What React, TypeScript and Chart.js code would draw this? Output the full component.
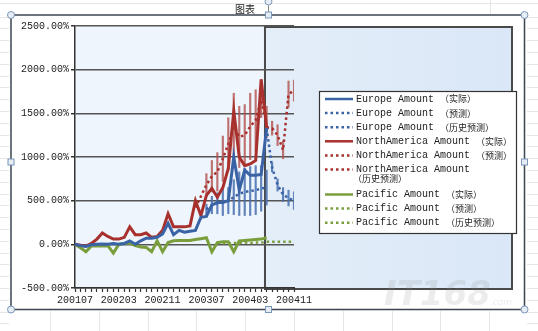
import React, { useEffect, useRef } from "react";
import { Chart, registerables } from "chart.js";

Chart.register(...registerables);

const MONTHS = [
  "200107", "200108", "200109", "200110", "200111", "200112",
  "200201", "200202", "200203", "200204", "200205", "200206",
  "200207", "200208", "200209", "200210", "200211", "200212",
  "200301", "200302", "200303", "200304", "200305", "200306",
  "200307", "200308", "200309", "200310", "200311", "200312",
  "200401", "200402", "200403", "200404", "200405", "200406",
  "200407", "200408", "200409", "200410", "200411",
];

const Y_MIN = -500;
const Y_MAX = 2500;
const Y_STEP = 500;
const LABEL_EVERY = 8;

// actual values (index 0 .. 35)
const EUROPE_ACTUAL = [0, -15, -25, -5, 0, 5, 0, 10, 0, 10, 40, 0, 40, 70, 70, 80, 120, 240, 110, 160, 140, 150, 160, 310, 320, 450, 480, 480, 500, 1000, 620, 850, 790, 790, 800, 1330];
const NA_ACTUAL = [0, -10, -20, 10, 60, 130, 90, 60, 60, 80, 200, 110, 110, 130, 80, 90, 160, 350, 200, 200, 200, 210, 500, 330, 560, 640, 540, 650, 870, 1530, 1000, 900, 920, 960, 1890, 1340];
const PACIFIC_ACTUAL = [0, -40, -85, -20, -20, -20, -15, -100, 0, 10, 15, -15, -30, -35, -85, 40, -85, 20, 40, 45, 45, 45, 55, 65, 75, -85, 20, 30, 30, -85, 40, 45, 50, 55, 60, 75];

// forecast (from index 35)
const FORECAST_START = 35;
const EUROPE_FORECAST = [1330, 880, 680, 570, 530, 500];
const EUROPE_FORECAST_ERR = [null, 50, 70, 80, 90, 100];
const NA_FORECAST = [1340, 1330, 1250, 1080, 1720, 1760];
const NA_FORECAST_ERR = [null, 80, 120, 100, 150, 120];
const PACIFIC_FORECAST = [30, 30, 30, 30, 30, 30];

// historical forecast
const EUROPE_HIST_START = 24;
const EUROPE_HIST = [400, 450, 470, 480, 500, 540, 580, 600, 610, 620, 640, 650];
const EUROPE_HIST_ERR = [60, 100, 120, 150, 150, 200, 250, 270, 280, 280, 260, 200];
const NA_HIST_START = 22;
const NA_HIST = [420, 550, 680, 780, 830, 980, 1150, 1350, 1230, 1250, 1350, 1420, 1650, 1400];
const NA_HIST_ERR = [null, null, 130, 180, 220, 260, 300, 380, 350, 350, 380, 350, 200, 180];
const PACIFIC_HIST_START = 26;
const PACIFIC_HIST = [15, 15, 10, 15, 15, 20, 15, 20, 20, 25];

const SERIES_LABELS = [
  "Europe Amount （实际）",
  "Europe Amount （预测）",
  "Europe Amount （历史预测）",
  "NorthAmerica Amount （实际）",
  "NorthAmerica Amount （预测）",
  "NorthAmerica Amount\n（历史预测）",
  "Pacific Amount （实际）",
  "Pacific Amount （预测）",
  "Pacific Amount （历史预测）",
];

const BLUE = "#3a63a5";
const RED = "#a8312e";
const GREEN = "#7a9e3c";
const BLUE_ERR = "rgba(70,110,175,0.85)";
const RED_ERR = "rgba(178,80,76,0.8)";
const MONO = "'Liberation Mono', 'DejaVu Sans Mono', monospace";
const CJK = "'Noto Sans CJK SC', sans-serif";
const W = 538;
const H = 331;

function place(start: number, values: (number | null)[]) {
  const out: (number | null)[] = new Array(MONTHS.length).fill(null);
  values.forEach((v, i) => { out[start + i] = v; });
  return out;
}
function ranges(start: number, values: number[], errs: (number | null)[]) {
  const out: any[] = new Array(MONTHS.length).fill(null);
  values.forEach((v, i) => {
    const e = errs[i];
    if (e != null) out[start + i] = [v - e, v + e];
  });
  return out;
}

const solid = (label: string, data: any[], color: string) => ({
  type: "line" as const, label, data, borderColor: color, backgroundColor: color,
  borderWidth: 3, pointRadius: 0, fill: false, tension: 0, order: 1,
});
const dotted = (label: string, data: any[], color: string) => ({
  ...solid(label, data, color), borderWidth: 2.5, borderDash: [2.5, 3], order: 2,
});
const errBars = (data: any[], color: string) => ({
  type: "bar" as const, label: "", data, backgroundColor: color, borderWidth: 0,
  barThickness: 1.5, grouped: false, order: 5,
});

const SERIES_STYLE = [
  { color: BLUE, dash: false }, { color: BLUE, dash: true }, { color: BLUE, dash: true },
  { color: RED, dash: false }, { color: RED, dash: true }, { color: RED, dash: true },
  { color: GREEN, dash: false }, { color: GREEN, dash: true }, { color: GREEN, dash: true },
];

const decor = {
  id: "decor",
  beforeDraw(chart: any) {
    const { ctx, chartArea: a, scales } = chart;
    ctx.save();
    ctx.fillStyle = "#ffffff";
    ctx.fillRect(0, 0, W, H);
    // spreadsheet grid outside the chart
    ctx.strokeStyle = "#e6e6e6";
    ctx.lineWidth = 1;
    const ln = (x1: number, y1: number, x2: number, y2: number) => {
      ctx.beginPath(); ctx.moveTo(x1, y1); ctx.lineTo(x2, y2); ctx.stroke();
    };
    ln(0, 3.5, W, 3.5);
    for (let y = 16.5; y < H; y += 11.8) { ln(0, Math.round(y) + 0.5, 9, Math.round(y) + 0.5); ln(527, Math.round(y) + 0.5, W, Math.round(y) + 0.5); }
    for (let x = 50; x < W; x += 48.8) { ln(Math.round(x) + 0.5, 311, Math.round(x) + 0.5, H); }
    ln(490.5, 0, 490.5, 14);
    // chart frame
    ctx.fillStyle = "#ffffff";
    ctx.fillRect(11, 15, 513, 294);
    ctx.strokeStyle = "#3b4652";
    ctx.lineWidth = 1.5;
    ctx.strokeRect(11, 15, 513.5, 294.5);
    // plot background
    ctx.fillStyle = "#eef5fc";
    ctx.fillRect(a.left, a.top, a.right - a.left, a.bottom - a.top);
    // forecast region rectangle
    const fx = scales.x.getPixelForValue(FORECAST_START - 0.3);
    const rx2 = 512;
    const g = ctx.createLinearGradient(fx, 0, rx2, 0);
    g.addColorStop(0, "#e4eef9");
    g.addColorStop(1, "#dae7f7");
    ctx.fillStyle = g;
    ctx.fillRect(fx, a.top + 1, rx2 - fx, a.bottom - a.top);
    ctx.strokeStyle = "#4a4a4a";
    ctx.lineWidth = 2;
    ctx.strokeRect(fx, a.top + 1, rx2 - fx, a.bottom - a.top);
    ctx.restore();
  },
  afterDraw(chart: any) {
    const { ctx } = chart;
    ctx.save();
    // legend
    const LX = 319, LY = 91, LW = 197, LH = 142;
    ctx.fillStyle = "#ffffff";
    ctx.fillRect(LX, LY, LW, LH);
    ctx.strokeStyle = "#333333";
    ctx.lineWidth = 1.2;
    ctx.strokeRect(LX + 0.5, LY + 0.5, LW, LH);
    let y = 99;
    SERIES_LABELS.forEach((label, i) => {
      const st = SERIES_STYLE[i];
      ctx.strokeStyle = st.color;
      ctx.lineWidth = 2.5;
      ctx.setLineDash(st.dash ? [2.5, 3] : []);
      ctx.beginPath(); ctx.moveTo(325, y); ctx.lineTo(353, y); ctx.stroke();
      ctx.setLineDash([]);
      ctx.fillStyle = "#222222";
      ctx.textBaseline = "middle";
      const wrapped = label.includes("\n");
      const idx = label.indexOf("（");
      const latin = wrapped ? label.split("\n")[0] + " " : label.slice(0, idx);
      const cjk = label.slice(idx);
      ctx.font = `10px ${MONO}`;
      ctx.fillText(latin, 356, y);
      const w = ctx.measureText(latin).width;
      ctx.font = `9px ${CJK}`;
      if (wrapped) {
        ctx.fillText(cjk, 353, y + 9.5);
        y += 25;
      } else {
        ctx.fillText(cjk, 356 + w, y);
        y += 14.1;
      }
    });
    // title above chart
    ctx.fillStyle = "#222222";
    ctx.font = `10px ${CJK}`;
    ctx.textBaseline = "middle";
    ctx.fillText("图表", 235, 9);
    // rotation stem
    ctx.strokeStyle = "#8a8a8a";
    ctx.lineWidth = 1;
    ctx.beginPath(); ctx.moveTo(268.5, 3); ctx.lineTo(268.5, 13); ctx.stroke();
    // selection handles
    const circ = (x: number, yy: number) => {
      ctx.beginPath(); ctx.arc(x, yy, 3.5, 0, Math.PI * 2);
      ctx.fillStyle = "#e6edf5"; ctx.fill();
      ctx.strokeStyle = "#7b97b9"; ctx.lineWidth = 1; ctx.stroke();
    };
    const sq = (x: number, yy: number) => {
      ctx.fillStyle = "#e6edf5"; ctx.fillRect(x - 3, yy - 3, 6, 6);
      ctx.strokeStyle = "#7b97b9"; ctx.lineWidth = 1; ctx.strokeRect(x - 3, yy - 3, 6, 6);
    };
    circ(268.5, 1.5);
    circ(11, 15); circ(524.5, 15); circ(11, 309.5); circ(524.5, 309.5);
    sq(268.5, 15); sq(268.5, 309.5); sq(11, 162); sq(524.5, 162);
    // watermark
    ctx.globalAlpha = 0.16;
    ctx.fillStyle = "#8a8a8a";
    ctx.font = `italic bold 34px 'DejaVu Sans', sans-serif`;
    ctx.textBaseline = "alphabetic";
    ctx.fillText("IT168", 384, 305);
    ctx.font = `italic 9px 'DejaVu Sans', sans-serif`;
    ctx.fillText(".com", 490, 305);
    ctx.restore();
  },
};

export default function App() {
  const ref = useRef<HTMLCanvasElement | null>(null);
  useEffect(() => {
    if (!ref.current) return;
    const datasets: any[] = [
      solid(SERIES_LABELS[0], place(0, EUROPE_ACTUAL), BLUE),
      dotted(SERIES_LABELS[1], place(FORECAST_START, EUROPE_FORECAST), BLUE),
      dotted(SERIES_LABELS[2], place(EUROPE_HIST_START, EUROPE_HIST), BLUE),
      solid(SERIES_LABELS[3], place(0, NA_ACTUAL), RED),
      dotted(SERIES_LABELS[4], place(FORECAST_START, NA_FORECAST), RED),
      dotted(SERIES_LABELS[5], place(NA_HIST_START, NA_HIST), RED),
      solid(SERIES_LABELS[6], place(0, PACIFIC_ACTUAL), GREEN),
      dotted(SERIES_LABELS[7], place(FORECAST_START, PACIFIC_FORECAST), GREEN),
      dotted(SERIES_LABELS[8], place(PACIFIC_HIST_START, PACIFIC_HIST), GREEN),
      errBars(ranges(EUROPE_HIST_START, EUROPE_HIST, EUROPE_HIST_ERR), BLUE_ERR),
      errBars(ranges(FORECAST_START, EUROPE_FORECAST, EUROPE_FORECAST_ERR), BLUE_ERR),
      errBars(ranges(NA_HIST_START, NA_HIST, NA_HIST_ERR), RED_ERR),
      errBars(ranges(FORECAST_START, NA_FORECAST, NA_FORECAST_ERR), RED_ERR),
    ];
    const chart = new Chart(ref.current, {
      type: "line",
      data: { labels: MONTHS, datasets },
      options: {
        responsive: false,
        animation: false,
        layout: { padding: { left: 0, top: 26, right: 244, bottom: 22 } },
        plugins: { legend: { display: false }, tooltip: { enabled: false }, title: { display: false } },
        scales: {
          x: {
            type: "category",
            offset: false,
            grid: { offset: false, drawOnChartArea: false, drawTicks: true, tickLength: 4, tickColor: "#333", tickWidth: 1.2 },
            border: { display: true, color: "#333", width: 1.5 },
            ticks: {
              autoSkip: false, maxRotation: 0, minRotation: 0, padding: 2, color: "#222",
              font: { family: MONO, size: 10 },
              callback: (_v: any, i: number) => (i % LABEL_EVERY === 0 ? MONTHS[i] : ""),
            },
            afterFit: (s: any) => { s.height = 21; },
          },
          y: {
            min: Y_MIN, max: Y_MAX,
            grid: { color: "#555", lineWidth: 1.5, drawTicks: true, tickLength: 4, tickColor: "#333" },
            border: { display: true, color: "#333", width: 1.5 },
            ticks: {
              stepSize: Y_STEP, padding: 2, color: "#222",
              font: { family: MONO, size: 10 },
              callback: (v: any) => Number(v).toFixed(2) + "%",
            },
            afterFit: (s: any) => { s.width = 75; },
          },
        },
      } as any,
      plugins: [decor],
    });
    return () => chart.destroy();
  }, []);
  return (
    <div style={{ position: "absolute", left: 0, top: 0, width: W, height: H }}>
      <canvas ref={ref} width={W} height={H} style={{ display: "block" }} />
    </div>
  );
}
